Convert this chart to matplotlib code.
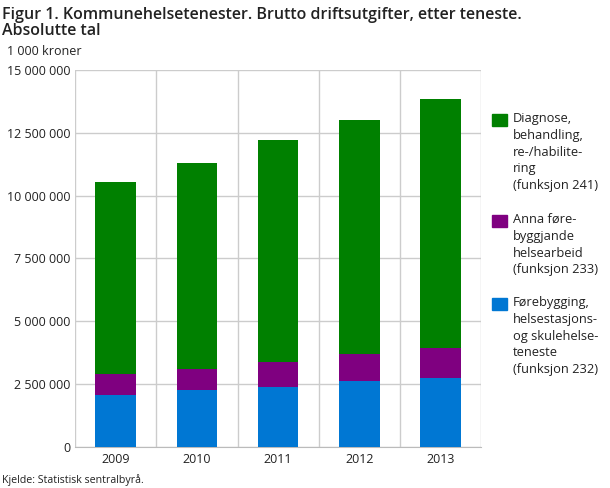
import matplotlib
matplotlib.use("Agg")
import matplotlib.pyplot as plt
import numpy as np
from matplotlib.patches import Rectangle
from matplotlib.ticker import FuncFormatter

plt.rcParams['font.family'] = ['Open Sans', 'DejaVu Sans']

years = ['2009', '2010', '2011', '2012', '2013']
# 1 000 kroner
forebygging = [2080000, 2260000, 2400000, 2640000, 2760000]
anna = [810000, 830000, 980000, 1050000, 1170000]
diagnose = [7660000, 8210000, 8840000, 9320000, 9920000]

labels = ['Førebygging,\nhelsestasjons-\nog skulehelse-\nteneste\n(funksjon 232)',
          'Anna føre-\nbyggjande\nhelsearbeid\n(funksjon 233)',
          'Diagnose,\nbehandling,\nre-/habilite-\nring\n(funksjon 241)']
colors = ['#0077d3', '#7f0080', '#008000']

W, H = 610, 488
fig = plt.figure(figsize=(W / 100, H / 100), dpi=100)
ax = fig.add_axes([0.123, 0.084, 0.666, 0.773])

x = np.arange(len(years))
bottom = np.zeros(len(years))
for vals, c, lab in zip([forebygging, anna, diagnose], colors, labels):
    ax.bar(x, vals, width=0.5, bottom=bottom, color=c, label=lab, zorder=3)
    bottom += np.array(vals)

ax.set_xlim(-0.5, len(years) - 0.5)
ax.set_ylim(0, 15000000)
ax.set_yticks(np.arange(0, 15000001, 2500000))
ax.yaxis.set_major_formatter(FuncFormatter(lambda v, p: f"{int(v):,}".replace(",", " ")))
ax.set_xticks(x)
ax.set_xticklabels(years)
ax.set_xticks(np.arange(-0.5, len(years)), minor=True)
ax.grid(axis='y', color='#cccccc', lw=1, zorder=0)
ax.grid(axis='x', which='minor', color='#cccccc', lw=1, zorder=0)
ax.tick_params(which='both', length=0, labelsize=9, colors='#222222')
ax.tick_params(axis='x', pad=4)
for s in ['top', 'right', 'left']:
    ax.spines[s].set_visible(False)
ax.spines['bottom'].set_color('#bbbbbb')

fig.text(0.003, 0.985, 'Figur 1. Kommunehelsetenester. Brutto driftsutgifter, etter teneste.\nAbsolutte tal',
         fontsize=11.5, fontweight='semibold', va='top', ha='left', color='#222222', linespacing=1.0)
fig.text(0.012, 0.895, '1 000 kroner', fontsize=9, va='center', ha='left', color='#222222')
fig.text(0.003, 0.016, 'Kjelde: Statistisk sentralbyrå.', fontsize=7.7, va='center', ha='left', color='#222222')

# legend, drawn by hand so the swatch sits at the first line
leg_y = [120, 221, 304]
for lab, c, y in zip(labels[::-1], colors[::-1], leg_y):
    fig.patches.append(Rectangle((492 / W, 1 - (y + 6) / H), 15 / W, 12 / H,
                                 transform=fig.transFigure, color=c))
    fig.text(513 / W, 1 - (y - 8) / H, lab, fontsize=9.3, va='top', ha='left',
             color='#222222', linespacing=1.38)

fig.savefig('out.png', dpi=100)
